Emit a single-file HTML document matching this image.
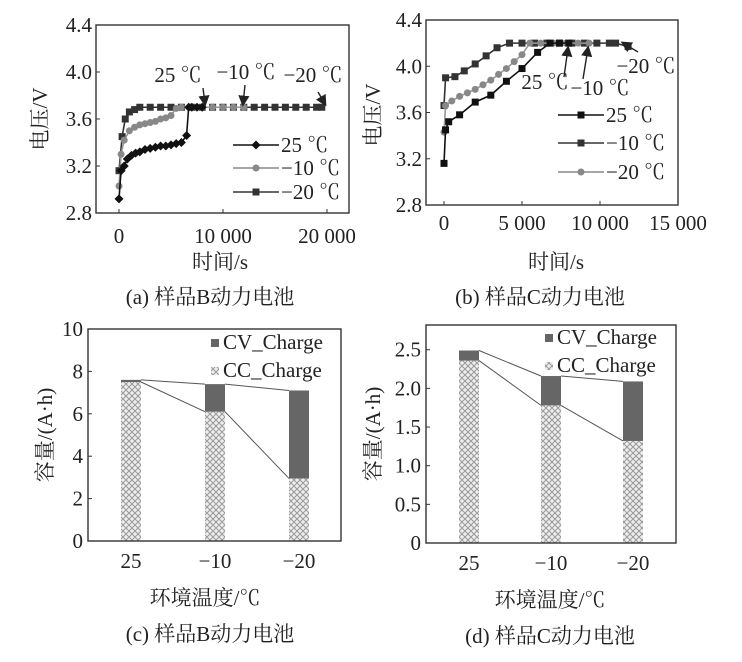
<!DOCTYPE html>
<html><head><meta charset="utf-8"><style>
body{margin:0;background:#fff;}
svg{display:block;font-family:"Liberation Serif","Noto Serif CJK SC",serif;}
text{fill:#222;}
</style></head><body>
<svg id="fig" width="742" height="662" viewBox="0 0 742 662">
<defs>
<pattern id="hatch" width="6" height="6" patternUnits="userSpaceOnUse">
<rect width="6" height="6" fill="#eee"/>
<path d="M0,0L6,6M6,0L0,6" stroke="#999" stroke-width="1"/>
</pattern>
<marker id="arr" markerWidth="8" markerHeight="8" refX="6" refY="4" orient="auto"><path d="M0,0L8,4L0,8z" fill="#222"/></marker>
</defs>
</svg>
<script>
// ---- Panel (a) data ----
const aT25=[0,200,500,800,1200,1600,2000,2500,3000,3500,4000,4500,5000,5500,6000,6500,6700,7000,7500,8000];
const aV25=[2.92,3.16,3.2,3.26,3.29,3.31,3.32,3.34,3.35,3.36,3.37,3.37,3.38,3.39,3.4,3.46,3.7,3.7,3.7,3.7];
const aT10=[0,200,500,1000,1500,2000,2500,3000,3500,4000,4500,5000,5500,6000,7000,8000,9000,10000,11000,12000];
const aV10=[3.03,3.3,3.42,3.5,3.53,3.55,3.56,3.57,3.58,3.6,3.61,3.63,3.69,3.7,3.7,3.7,3.7,3.7,3.7,3.7];
const aT20=[0,300,600,1000,1500,2000,3000,4000,5000,6000,7000,8000,9000,10000,11000,12000,13000,14000,15000,16000,17000,18000,19000,19500];
const aV20=[3.16,3.45,3.6,3.66,3.68,3.7,3.7,3.7,3.7,3.7,3.7,3.7,3.7,3.7,3.7,3.7,3.7,3.7,3.7,3.7,3.7,3.7,3.7,3.7];
const aXTicks=[0,10000,20000];const aXLabels=["0","10 000","20 000"];
const aYTicks=[2.8,3.2,3.6,4.0,4.4];const aYLabels=["2.8","3.2","3.6","4.0","4.4"];
// ---- Panel (b) data ----
const bT25=[0,100,300,1000,2000,3000,4000,5000,6000,6800,7400,8000];
const bV25=[3.16,3.45,3.52,3.58,3.69,3.75,3.87,3.98,4.12,4.2,4.2,4.2];
const bT10=[0,100,500,1000,1500,2000,2500,3000,3500,4000,4500,5000,5500,6200,7000,7800,8600,9300];
const bV10=[3.43,3.66,3.7,3.74,3.77,3.8,3.84,3.88,3.93,3.98,4.04,4.1,4.2,4.2,4.2,4.2,4.2,4.2];
const bT20=[0,100,700,1300,2000,2700,3400,4200,5000,5800,6600,7400,8200,9000,9800,10600,11000,11800];
const bV20=[3.66,3.9,3.91,3.96,4.02,4.09,4.16,4.2,4.2,4.2,4.2,4.2,4.2,4.2,4.2,4.2,4.2,4.17];
const bXTicks=[0,5000,10000,15000];const bXLabels=["0","5 000","10 000","15 000"];
const bYTicks=[2.8,3.2,3.6,4.0,4.4];const bYLabels=["2.8","3.2","3.6","4.0","4.4"];
// ---- Panel (c) data ----
const cCats=["25","\u221210","\u221220"];
const cCC=[7.5,6.1,2.95];
const cTotal=[7.6,7.4,7.1];
const cYTicks=[0,2,4,6,8,10];const cYLabels=["0","2","4","6","8","10"];
// ---- Panel (d) data ----
const dCats=["25","\u221210","\u221220"];
const dCC=[2.36,1.78,1.32];
const dTotal=[2.49,2.16,2.09];
const dYTicks=[0,0.5,1.0,1.5,2.0,2.5];const dYLabels=["0","0.5","1.0","1.5","2.0","2.5"];

const svg=document.getElementById('fig');
const NS='http://www.w3.org/2000/svg';
function mk(tag,attrs,parent,txt){const e=document.createElementNS(NS,tag);for(const k in attrs)e.setAttribute(k,attrs[k]);if(txt!==undefined)e.textContent=txt;(parent||svg).appendChild(e);return e;}
function lin(d0,d1,r0,r1){return v=>r0+(v-d0)/(d1-d0)*(r1-r0);}

function axesBox(g,x0,y0,x1,y1){
  const r=mk('rect',{x:x0,y:y0,width:x1-x0,height:y1-y0,fill:'none',stroke:'#333','stroke-width':1.4},g);
  
}
function yAxis(g,ticks,labels,ys,x0,lx,name){
  const ga=mk('g',{},g);
  ticks.forEach((t,i)=>{const y=ys(t);
    mk('line',{x1:x0,x2:x0+4,y1:y,y2:y,stroke:'#333'},ga);
    const tx=mk('text',{x:lx,y:y+7,'text-anchor':'end','font-size':21},ga,labels[i]);
    });
}
function xAxis(g,ticks,labels,xs,y0,ly,name){
  const ga=mk('g',{},g);
  ticks.forEach((t,i)=>{const x=xs(t);
    mk('line',{x1:x,x2:x,y1:y0,y2:y0-4,stroke:'#333'},ga);
    const tx=mk('text',{x:x,y:ly,'text-anchor':'middle','font-size':21},ga,labels[i]);
    });
}
function marker(g,type,x,y,fill){
  let m;
  if(type==='d')m=mk('path',{d:`M${x},${y-4.5}L${x+4.5},${y}L${x},${y+4.5}L${x-4.5},${y}Z`,fill:fill},g);
  else if(type==='s')m=mk('rect',{x:x-3.5,y:y-3.5,width:7,height:7,fill:fill},g);
  else m=mk('circle',{cx:x,cy:y,r:3.5,fill:fill},g);
  return m;
}
function series(g,T,V,xs,ys,type,color,lineColor,name){
  const gs=mk('g',{},g);
  const pts=T.map((t,i)=>xs(t)+','+ys(V[i])).join(' ');
  mk('polyline',{points:pts,fill:'none',stroke:lineColor,'stroke-width':1.6},gs);
  T.forEach((t,i)=>{const m=marker(gs,type,xs(t),ys(V[i]),color);
    });
}
function legendEntry(g,x,y,type,color,label){
  const ge=mk('g',{},g);
  mk('line',{x1:x,x2:x+46,y1:y,y2:y,stroke:color,'stroke-width':1.6},ge);
  marker(ge,type,x+23,y,color);
  mk('text',{x:x+48,y:y+7,'font-size':21},ge,label);
}
function txt(g,x,y,s,size,name,anchor,rot){
  const a={x:x,y:y,'font-size':size,'text-anchor':anchor||'middle'};
  if(rot)a.transform=`rotate(-90 ${x} ${y})`;
  const t=mk('text',a,g,s);return t;
}
function arrow(g,x1,y1,x2,y2){const l=mk('line',{x1,y1,x2,y2,stroke:'#222','stroke-width':1.4,'marker-end':'url(#arr)'},g);
  }

// ===== Panel a =====
(function(){
  const g=mk('g',{});
  const xs=lin(0,20000,119,327),ys=lin(2.8,4.4,213,25);
  axesBox(g,96,25,349,213);
  yAxis(g,aYTicks,aYLabels,ys,96,92,'y-axis');
  xAxis(g,aXTicks,aXLabels,xs,213,243,'x-axis');
  series(g,aT20,aV20,xs,ys,'s','#333','#333','series-minus20');
  series(g,aT10,aV10,xs,ys,'c','#888','#999','series-minus10');
  series(g,aT25,aV25,xs,ys,'d','#111','#111','series-25');
  legendEntry(g,233,145,'d','#111','25 ℃');
  legendEntry(g,233,168,'c','#888','\u221210 ℃');
  legendEntry(g,233,192,'s','#333','\u221220 ℃');
  txt(g,178,82,'25 ℃',21,'annotation-25');
  txt(g,246,79,'\u221210 ℃',21,'annotation-minus10');
  txt(g,313,82,'\u221220 ℃',21,'annotation-minus20');
  arrow(g,203,88,205,104);arrow(g,245,85,243,104);arrow(g,318,92,325,104);
  txt(g,47,119,'电压/V',21,'y-axis-title','middle',true);
  txt(g,220,269,'时间/s',21,'x-axis-title');
  txt(g,210,304,'(a) 样品B动力电池',21,'caption-a');
})();
// ===== Panel b =====
(function(){
  const g=mk('g',{});
  const xs=lin(0,15000,444,678),ys=lin(2.8,4.4,205,20);
  axesBox(g,426,20,678,205);
  yAxis(g,bYTicks,bYLabels,ys,426,422,'y-axis');
  xAxis(g,bXTicks,bXLabels,xs,205,230,'x-axis');
  series(g,bT20,bV20,xs,ys,'s','#333','#333','series-minus20');
  series(g,bT10,bV10,xs,ys,'c','#888','#999','series-minus10');
  series(g,bT25,bV25,xs,ys,'s','#111','#111','series-25');
  legendEntry(g,558,115,'s','#111','25 ℃');
  legendEntry(g,558,143,'s','#333','\u221210 ℃');
  legendEntry(g,558,172,'c','#888','\u221220 ℃');
  txt(g,545,89,'25 ℃',21,'annotation-25');
  txt(g,600,95,'\u221210 ℃',21,'annotation-minus10');
  txt(g,646,73,'\u221220 ℃',21,'annotation-minus20');
  arrow(g,564,77,568,48);arrow(g,583,79,588,48);arrow(g,638,52,623,43);
  txt(g,380,115,'电压/V',21,'y-axis-title','middle',true);
  txt(g,556,269,'时间/s',21,'x-axis-title');
  txt(g,540,304,'(b) 样品C动力电池',21,'caption-b');
})();
// ===== bar panels =====
function barPanel(name,cats,cc,tot,yT,yL,ymax,box,centers,bw,legY,legX,capStr,capX,titleX,ytX){
  const g=mk('g',{});
  const [x0,y0,x1,y1]=box;const ys=lin(0,ymax,y1,y0);
  const xc=i=>centers[0]+i*(centers[1]-centers[0]);
  cats.forEach((c,i)=>{const x=xc(i)-bw/2;
    const r1=mk('rect',{x:x,y:ys(cc[i]),width:bw,height:ys(0)-ys(cc[i]),fill:'url(#hatch)'},g);
    
    const r2=mk('rect',{x:x,y:ys(tot[i]),width:bw,height:ys(cc[i])-ys(tot[i]),fill:'#666'},g);
    
    const t=mk('text',{x:xc(i),y:y1+27,'text-anchor':'middle','font-size':21},g,c);
    
  });
  for(let i=0;i<cats.length-1;i++){
    mk('line',{x1:xc(i)+bw/2,y1:ys(cc[i]),x2:xc(i+1)-bw/2,y2:ys(cc[i+1]),stroke:'#555','stroke-width':1},g);
    mk('line',{x1:xc(i)+bw/2,y1:ys(tot[i]),x2:xc(i+1)-bw/2,y2:ys(tot[i+1]),stroke:'#555','stroke-width':1},g);
  }
  axesBox(g,x0,y0,x1,y1);
  yAxis(g,yT,yL,ys,x0,x0-5,'y-axis');
  const lg=mk('g',{},g);
  mk('rect',{x:legX,y:legY-10,width:8,height:8,fill:'#666'},lg);
  mk('text',{x:legX+12,y:legY,'font-size':21},lg,'CV_Charge');
  mk('rect',{x:legX,y:legY+18,width:8,height:8,fill:'url(#hatch)'},lg);
  mk('text',{x:legX+12,y:legY+28,'font-size':21},lg,'CC_Charge');
  txt(g,ytX,(y0+y1)/2,'容量/(A·h)',21,'y-axis-title','middle',true);
  txt(g,titleX,y1+64,'环境温度/℃',21,'x-axis-title');
  txt(g,capX,y1+100,capStr,21,'caption');
}
barPanel('panel-c',cCats,cCC,cTotal,cYTicks,cYLabels,10,[88,329,341,541],[131,215],20,349,211,'(c) 样品B动力电池',210,205,52);
barPanel('panel-d',dCats,dCC,dTotal,dYTicks,dYLabels,2.82,[426,325,676,543],[469,551],20,344,545,'(d) 样品C动力电池',550,550,380);
</script>
</body></html>
